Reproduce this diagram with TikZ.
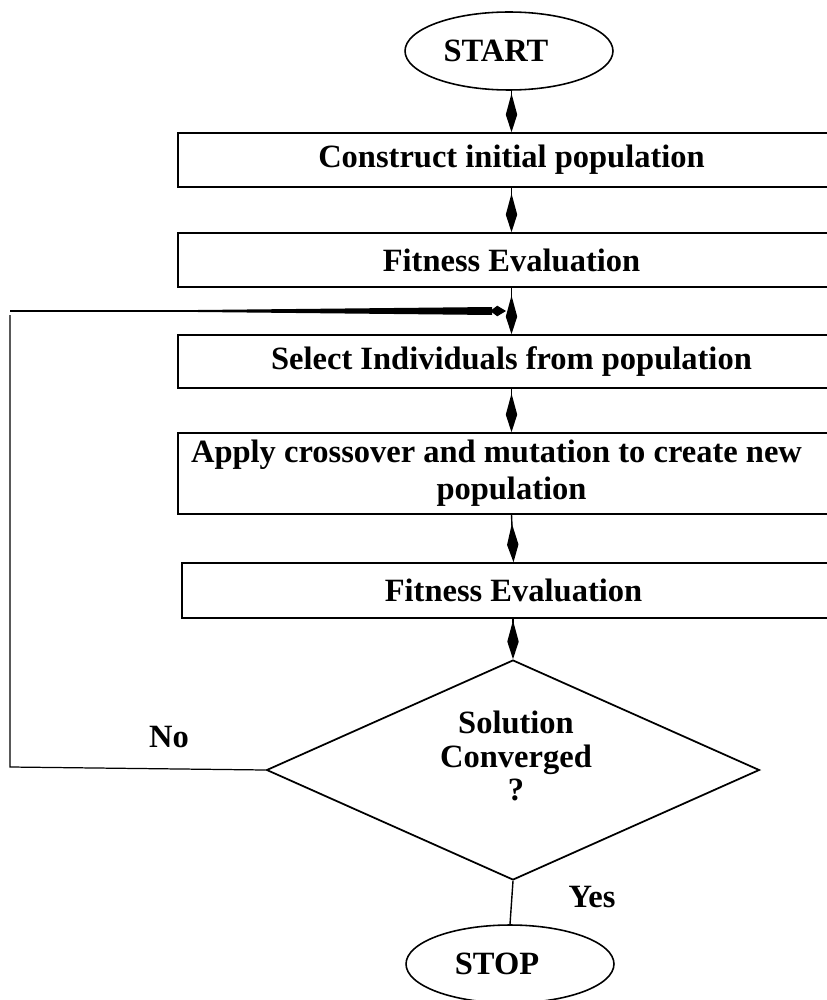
\documentclass[tikz,border=0pt]{standalone}
\usepackage{fontspec}
\setmainfont{Liberation Serif}
\usetikzlibrary{arrows.meta,shapes.geometric,calc}

\begin{document}
\begin{tikzpicture}[x=0.02cm,y=-0.02cm,
  font=\bfseries\fontsize{18.5}{21}\selectfont,
  procbox/.style={draw,line width=0.9pt,rectangle,minimum width=13.34cm,inner sep=0pt,align=center},
  termnode/.style={draw,line width=0.9pt,ellipse,minimum width=4.16cm,minimum height=1.56cm,inner sep=0pt},
  decnode/.style={draw,line width=1pt,diamond,minimum width=9.86cm,minimum height=4.4cm,inner sep=0pt},
  flowarrow/.style={line width=0.8pt,-{Kite[length=22pt,width=6.5pt,inset=12pt]}}]
  \useasboundingbox (0,0) rectangle (827,1000);

  % nodes of the loop
  \node[termnode] (start) at (509,51) {START\hspace*{0.52cm}};
  \node[procbox,minimum height=1.08cm] (init) at (511.5,160) {Construct initial population};
  \node[procbox,minimum height=1.08cm] (eval1) at (511.5,260) {Fitness Evaluation};
  \node[procbox,minimum height=1.06cm] (sel) at (511.5,361.5) {Select Individuals from population};
  \node[procbox,minimum height=1.62cm] (cross) at (511.5,473.5) {Apply crossover and mutation to create new\hspace*{0.6cm}\\population};
  \node[procbox,minimum height=1.1cm,minimum width=13.26cm] (eval2) at (513.5,590.5) {Fitness Evaluation};
  \node[decnode] (conv) at (513,770) {};
  \node[align=center,font=\bfseries\fontsize{18.5}{19}\selectfont] (convtxt) at (516,756) {Solution\\Converged\\?};
  \node[termnode] (stop) at (510,964) {STOP\hspace*{0.52cm}};

  % arrows down
  \draw[flowarrow] (init.north |- start.south) -- (init.north);
  \draw[flowarrow] (init.south) -- (eval1.north);
  \draw[flowarrow] (eval1.south) -- (sel.north);
  \draw[flowarrow] (sel.south) -- (cross.north);
  \draw[flowarrow] (cross.south) -- (eval2.north);
  \draw[flowarrow] (eval2.south -| conv.north) -- (conv.north);
  \draw[line width=0.8pt] (conv.south) -- (stop.north);
  \node (yes) at (592,897) {Yes};

  % back to selection
  \coordinate (lb) at (10,767);
  \coordinate (lt) at (10,311);
  \coordinate (join) at (506,311);
  \draw[line width=0.7pt] (conv.west) -- (lb) -- (10,315);
  \draw[line width=0.6pt,-{Kite[length=9pt,width=6pt,inset=4pt]}] (lt) -- (join);
  \fill ($(lt)+(90,0)$) -- ($(join)+(-14,-4)$) -- ($(join)+(-14,4)$) -- cycle;
  \node (no) at (169,737) {No};
\end{tikzpicture}
\end{document}
